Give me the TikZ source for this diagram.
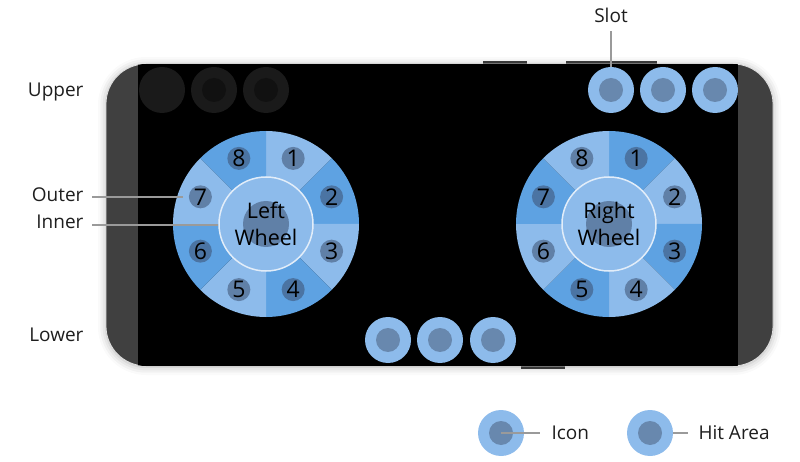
\documentclass[tikz,border=0pt]{standalone}
\usepackage{fontspec}
\setmainfont{Open Sans}
\usetikzlibrary{shadows.blur}
\definecolor{lightb}{HTML}{8DBBEB}
\definecolor{medb}{HTML}{5EA2E2}
\definecolor{icond}{HTML}{6888AE}
\definecolor{dotc}{HTML}{3C5070}
\definecolor{bezel}{HTML}{404040}
\definecolor{leader}{HTML}{9A9A9A}
\definecolor{txt}{HTML}{1E1E1E}
\definecolor{dimring}{HTML}{1A1A1A}
\definecolor{dimicon}{HTML}{111111}
\definecolor{innerline}{HTML}{E2EDF9}
\tikzset{
  hit/.style={circle, fill=lightb, minimum size=46pt, inner sep=0pt},
  icon/.style={circle, fill=icond, minimum size=24pt, inner sep=0pt},
  dimhit/.style={circle, fill=dimring, minimum size=46pt, inner sep=0pt},
  dimicon/.style={circle, fill=dimicon, minimum size=24pt, inner sep=0pt},
  numdot/.style={circle, fill=dotc, fill opacity=0.55, text opacity=1, minimum size=23pt, inner sep=0pt, text=black, font=\fontsize{23}{25}\selectfont},
  wheeltext/.style={align=center, text=black, font=\fontsize{21.5}{27}\selectfont},
  lbl/.style={font=\fontsize{19}{23}\selectfont, text=txt},
  leaderline/.style={draw=leader, line width=1.1pt},
}
\newcommand\drawwheel[7]{%
  \begin{scope}[shift={(#2,#3)}]
    \foreach \k in {1,...,8}{
      \pgfmathsetmacro\sa{45*\k-135}
      \pgfmathsetmacro\ea{45*\k-90}
      \ifodd\k \def\sc{#4}\else\def\sc{#5}\fi
      \fill[\sc] (0,0) -- (\sa:93) arc[start angle=\sa, end angle=\ea, radius=93] -- cycle;
    }
    \foreach \k in {1,...,8}{
      \pgfmathsetmacro\ca{45*\k-112.5}
      \node[numdot] (#1n\k) at (\ca:71) {\k};
    }
    \node[circle, fill=lightb, draw=innerline, line width=1.5pt, minimum size=94pt, inner sep=0pt] (#1in) at (0,0) {};
    \node[circle, fill=dotc, fill opacity=0.55, minimum size=46pt, inner sep=0pt] (#1c) at (0,0) {};
    \node[wheeltext] (#1t) at (0,0) {#6\\#7};
  \end{scope}}
\begin{document}
\begin{tikzpicture}[x=1pt,y=-1pt]
\useasboundingbox (0,0) rectangle (800,462);
% buttons
\fill[bezel] (483,61) rectangle (527,65);
\fill[bezel] (566,61) rectangle (657,65);
\fill[bezel] (521,365) rectangle (565,369);
% phone body
\path[fill=bezel, draw=black!12, line width=0.8pt, rounded corners=40pt, blur shadow={shadow xshift=0pt, shadow yshift=-1pt, shadow blur radius=8pt, shadow opacity=30}] (106,64) rectangle (773,366);
\begin{scope}
  \clip[rounded corners=40pt] (106,64) rectangle (773,366);
  \fill[black] (138,64) rectangle (738,366);
\end{scope}
% upper dimmed slots
\node[dimhit] (u1) at (162,90) {};
\node[dimhit] (u2) at (214,90) {};
\node[dimicon] (u2i) at (214,90) {};
\node[dimhit] (u3) at (266,90) {};
\node[dimicon] (u3i) at (266,90) {};
% upper right slots
\foreach \i/\x in {1/611,2/663,3/715}{
  \node[hit] (s\i) at (\x,90) {};
  \node[icon] (s\i i) at (\x,90) {};
}
% lower slots
\foreach \i/\x in {1/388,2/440,3/493}{
  \node[hit] (b\i) at (\x,340) {};
  \node[icon] (b\i i) at (\x,340) {};
}
% wheels
\drawwheel{L}{266}{224}{lightb}{medb}{Left}{Wheel}
\drawwheel{R}{609}{224}{medb}{lightb}{Right}{Wheel}
% labels
\node[lbl, anchor=east] (upper) at (87,92.5) {Upper};
\node[lbl, anchor=east] (outer) at (87,195) {Outer};
\node[lbl, anchor=east] (inner) at (87,221.5) {Inner};
\node[lbl, anchor=east] (lower) at (87,335) {Lower};
\node[lbl] (slot) at (611,15.5) {Slot};
\coordinate (oA) at (92,197);
\coordinate (oB) at (183,197);
\coordinate (iA) at (92,225);
\draw[leaderline] (oA) -- (oB);
\draw[leaderline] (iA) -- (iA -| Lin.west);
\draw[leaderline] ([yshift=-5pt]slot.south) -- (s1.north);
% legend
\node[hit] (lh1) at (501,433) {};
\node[icon] (li1) at (501,433) {};
\node[lbl, anchor=west] (licon) at (548,433) {Icon};
\draw[leaderline] (li1.center) -- ([xshift=-8pt]licon.west);
\node[hit] (lh2) at (650,433) {};
\node[icon] (li2) at (650,433) {};
\node[lbl, anchor=west] (lhit) at (695,433) {Hit Area};
\draw[leaderline] (lh2.east) -- ([xshift=-7pt]lhit.west);
\end{tikzpicture}
\end{document}
